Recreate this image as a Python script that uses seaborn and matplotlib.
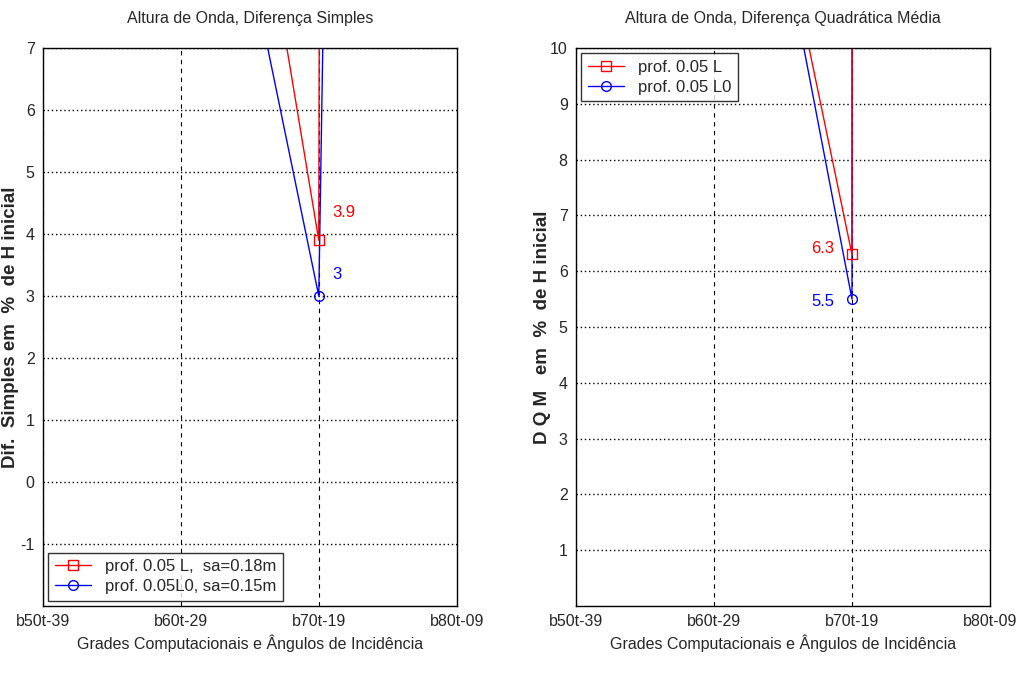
import matplotlib
matplotlib.use("Agg")
import matplotlib.pyplot as plt
import seaborn as sns
import pandas as pd

sns.set_style("white")
plt.rcParams['font.family'] = ['Liberation Sans', 'DejaVu Sans']

# ---- data ----
categories = ["b50t-39", "b60t-29", "b70t-19", "b80t-09"]
x_pos = [2, 3, 4]

left_red = [17.3, 3.9, 1000.0]
left_blue = [13.8, 3.0, 141.0]
right_red = [18.2, 6.3, 5000.0]
right_blue = [18.4, 5.5, 5000.0]

left_labels = ["prof. 0.05 L,  sa=0.18m", "prof. 0.05L0, sa=0.15m"]
right_labels = ["prof. 0.05 L", "prof. 0.05 L0"]

fig = plt.figure(figsize=(10.17, 6.77), dpi=100)
axL = fig.add_axes([0.0423, 0.105, 0.4067, 0.824])
axR = fig.add_axes([0.5664, 0.105, 0.4070, 0.824])

def panel(ax, red, blue, labels, ylim, yticks, title, ylabel, ann, loc, ylab_x):
    for i in range(1, 4):
        ax.axvline(i, color="black", ls=(0, (4, 4)), lw=0.8, zorder=0)
    for yt in yticks:
        ax.axhline(yt, color="black", ls=(0, (1, 2)), lw=1.0, zorder=0)
    n0 = len(ax.lines)
    dfr = pd.DataFrame({"x": x_pos, "y": red})
    dfb = pd.DataFrame({"x": x_pos, "y": blue})
    sns.lineplot(data=dfb, x="x", y="y", ax=ax, color="blue", marker="o", markersize=7,
                 lw=1, sort=False, legend=False)
    sns.lineplot(data=dfr, x="x", y="y", ax=ax, color="red", marker="s", markersize=7,
                 lw=1, sort=False, legend=False)
    ln_b, ln_r = ax.lines[n0], ax.lines[n0 + 1]
    for ln, c in ((ln_b, "blue"), (ln_r, "red")):
        ln.set_markerfacecolor("none")
        ln.set_markeredgecolor(c)
        ln.set_markeredgewidth(1.0)
    ax.set_xlim(1, 4)
    ax.set_ylim(*ylim)
    ax.set_xticks([1, 2, 3, 4])
    ax.set_xticklabels(categories)
    ax.set_yticks(yticks)
    ax.set_yticklabels([str(v) for v in yticks])
    ax.tick_params(axis="both", labelsize=11.5, length=4, direction="in", pad=6)
    ax.set_title(title, fontsize=11.5, pad=18)
    ax.set_xlabel("Grades Computacionais e Ângulos de Incidência", fontsize=11.5, labelpad=4)
    ax.set_ylabel(ylabel, fontsize=13.5, fontweight="bold")
    ax.yaxis.set_label_coords(ylab_x, 0.5)
    for sp in ax.spines.values():
        sp.set_color("black")
        sp.set_linewidth(1.0)
    for (xx, yy, txt, col, ha) in ann:
        ax.text(xx, yy, txt, color=col, fontsize=12, ha=ha, va="center")
    leg = ax.legend([ln_r, ln_b], labels, loc=loc, fontsize=12, frameon=True, fancybox=False,
                    edgecolor="black", handlelength=2.2, borderaxespad=0.3, labelspacing=0.3)
    leg.get_frame().set_linewidth(1.0)

panel(axL, left_red, left_blue, left_labels, (-2, 7), [-1, 0, 1, 2, 3, 4, 5, 6, 7],
      "Altura de Onda, Diferença Simples", "Dif.  Simples em  %  de H inicial",
      [(3.1, 4.35, "3.9", "red", "left"), (3.1, 3.35, "3", "blue", "left")], "lower left", -0.058)
panel(axR, right_red, right_blue, right_labels, (0, 10), [1, 2, 3, 4, 5, 6, 7, 8, 9, 10],
      "Altura de Onda, Diferença Quadrática Média", "D Q M   em  %  de H inicial",
      [(2.87, 6.4, "6.3", "red", "right"), (2.87, 5.45, "5.5", "blue", "right")], "upper left", -0.06)

fig.savefig("out.png", dpi=100)
